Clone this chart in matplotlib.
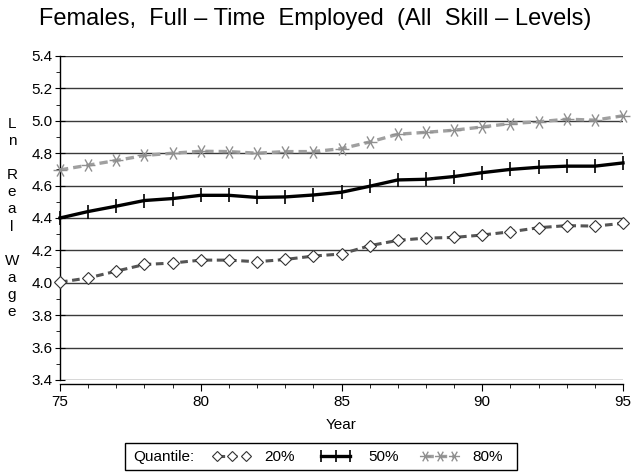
import matplotlib
matplotlib.use('Agg')
import matplotlib.pyplot as plt
from matplotlib.path import Path
from matplotlib.patches import Rectangle
from matplotlib.ticker import MultipleLocator, FormatStrFormatter

plt.rcParams['font.family'] = ['Liberation Sans', 'DejaVu Sans']

# Data
years = list(range(75, 96))
q20 = [4.004, 4.03, 4.072, 4.113, 4.122, 4.14, 4.14, 4.13, 4.144, 4.165, 4.178,
       4.229, 4.262, 4.276, 4.28, 4.295, 4.315, 4.34, 4.353, 4.35, 4.367]
q50 = [4.40, 4.44, 4.473, 4.508, 4.52, 4.54, 4.54, 4.527, 4.53, 4.542, 4.559,
       4.596, 4.635, 4.639, 4.656, 4.68, 4.70, 4.713, 4.72, 4.72, 4.74]
q80 = [4.697, 4.726, 4.755, 4.786, 4.80, 4.812, 4.81, 4.80, 4.81, 4.81, 4.828,
       4.869, 4.917, 4.929, 4.942, 4.962, 4.983, 4.994, 5.01, 5.004, 5.031]
labels = ['20%', '50%', '80%']

# six-armed asterisk marker
star = Path([(-1, 0), (1, 0), (-0.5, -0.87), (0.5, 0.87), (-0.5, 0.87), (0.5, -0.87)],
            [Path.MOVETO, Path.LINETO, Path.MOVETO, Path.LINETO, Path.MOVETO, Path.LINETO])

fig = plt.figure(figsize=(6.31, 4.72), dpi=100)
ax = fig.add_axes([60 / 631, 1 - 380 / 472, 563 / 631, 324 / 472])

# grid lines
for v in [3.4, 3.6, 3.8, 4.0, 4.2, 4.4, 4.6, 4.8, 5.0, 5.2, 5.4]:
    ax.axhline(v, color='#3a3a3a', lw=1.0, zorder=1)

h20, = ax.plot(years, q20, color='#555555', lw=2.2, dashes=(2.5, 1.5), marker='D',
               markersize=6.5, markerfacecolor='white', markeredgecolor='#333333',
               markeredgewidth=0.8, clip_on=False, zorder=3, label=labels[0])
h50, = ax.plot(years, q50, color='black', lw=2.4, marker='|', markersize=10,
               markeredgewidth=1.2, clip_on=False, zorder=3, label=labels[1])
h80, = ax.plot(years, q80, color='#a0a0a0', lw=2.4, dashes=(2.5, 1.5), marker=star,
               markersize=10, markeredgecolor='#909090', markeredgewidth=1.0,
               clip_on=False, zorder=3, label=labels[2])

ax.set_xlim(75, 95)
ax.set_ylim(3.4, 5.4)
ax.xaxis.set_major_locator(MultipleLocator(5))
ax.xaxis.set_minor_locator(MultipleLocator(1))
ax.yaxis.set_major_locator(MultipleLocator(0.2))
ax.yaxis.set_minor_locator(MultipleLocator(0.1))
ax.yaxis.set_major_formatter(FormatStrFormatter('%.1f'))

for s in ['top', 'right']:
    ax.spines[s].set_visible(False)
ax.spines['bottom'].set_position(('outward', 3))
ax.spines['left'].set_linewidth(1)
ax.spines['bottom'].set_linewidth(1)
ax.tick_params(axis='y', which='major', direction='inout', length=7, labelsize=11, pad=2)
ax.tick_params(axis='y', which='minor', direction='out', length=3)
ax.tick_params(axis='x', which='major', direction='out', length=5, labelsize=11, pad=3)
ax.tick_params(axis='x', which='minor', direction='out', length=3)

ax.set_xlabel('Year', fontsize=11, labelpad=6)
fig.text(12 / 631, 1 - 218 / 472, 'L\nn\n\nR\ne\na\nl\n\nW\na\ng\ne',
         ha='center', va='center', fontsize=11, linespacing=1.28)

fig.text(315 / 631, 1 - 19 / 472,
         'Females,  Full \u2013 Time  Employed  (All  Skill \u2013 Levels)',
         ha='center', va='center', fontsize=17)

# legend box
fig.patches.append(Rectangle((125 / 631, 1 - 470 / 472), 392 / 631, 27 / 472,
                             transform=fig.transFigure, fill=False,
                             edgecolor='black', lw=1))
fig.text(133 / 631, 1 - 457 / 472, 'Quantile:', ha='left', va='center', fontsize=11)
fig.legend(handles=[h20, h50, h80], labels=labels, ncol=3, frameon=False,
           loc='center left', bbox_to_anchor=(199 / 631, 1 - 457 / 472),
           numpoints=3, handlelength=2.5, handletextpad=0.9, columnspacing=1.4,
           fontsize=11, markerscale=0.8)

fig.savefig('out.png', dpi=100)
